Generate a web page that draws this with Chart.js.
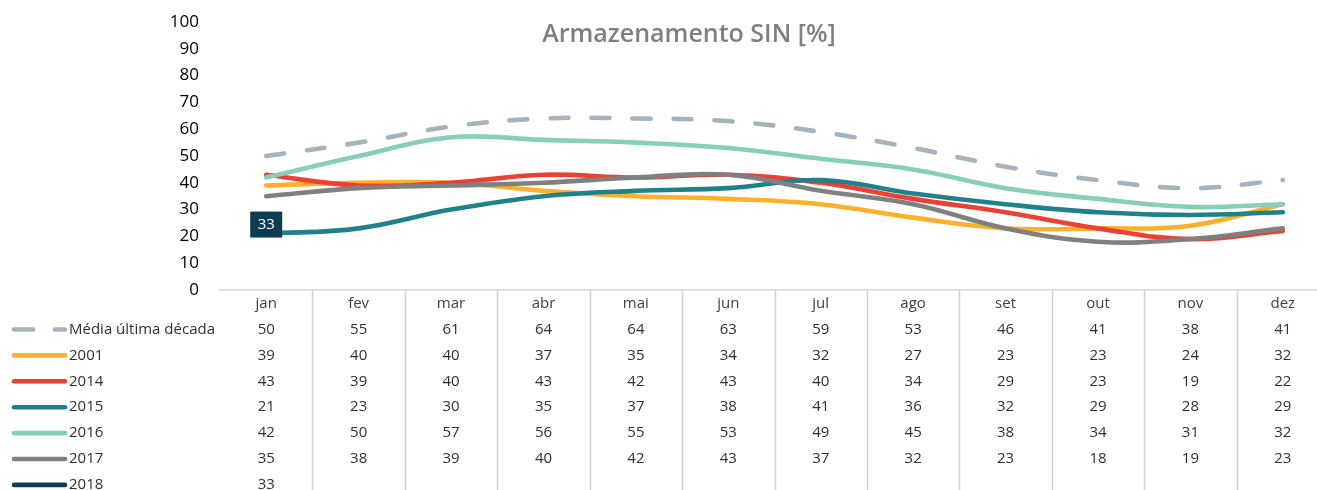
<!DOCTYPE html>
<html><head><meta charset="utf-8">
<script src="https://cdn.jsdelivr.net/npm/chart.js@4"></script>
<style>html,body{margin:0;padding:0;background:#fff;overflow:hidden;}#wrap{position:relative;width:1329px;height:490px;}</style>
</head><body><div id="wrap"><canvas id="c" width="1329" height="490"></canvas></div>
<script>
const titleText = 'Armazenamento SIN [%]';
const months = ['jan','fev','mar','abr','mai','jun','jul','ago','set','out','nov','dez'];
const seriesNames = ['Média última década','2001','2014','2015','2016','2017','2018'];
const media = [50,55,61,64,64,63,59,53,46,41,38,41];
const y2001 = [39,40,40,37,35,34,32,27,23,23,24,32];
const y2014 = [43,39,40,43,42,43,40,34,29,23,19,22];
const y2015 = [21,23,30,35,37,38,41,36,32,29,28,29];
const y2016 = [42,50,57,56,55,53,49,45,38,34,31,32];
const y2017 = [35,38,39,40,42,43,37,32,23,18,19,23];
const y2018 = [33,null,null,null,null,null,null,null,null,null,null,null];
const yTicks = [0,10,20,30,40,50,60,70,80,90,100];

const seriesData = [media,y2001,y2014,y2015,y2016,y2017,y2018];
const colors = ['#a5b3bd','#fdb12b','#ee3f35','#1f8189','#88cfba','#808080','#0e3c51'];
const FONT = '"Open Sans", "Noto Sans", sans-serif';

const datasets = seriesData.map((d,i)=>({
  label: seriesNames[i],
  data: d,
  borderColor: colors[i],
  backgroundColor: colors[i],
  borderWidth: 4.6,
  borderCapStyle: 'round',
  borderJoinStyle: 'round',
  borderDash: i===0 ? [18,23] : [],
  pointRadius: 0,
  tension: 0.4,
  fill: false,
  order: seriesData.length - i,
  spanGaps: false
}));

const tablePlugin = {
  id: 'tablePlugin',
  afterDraw(chart){
    const ctx = chart.ctx, xs = chart.scales.x, area = chart.chartArea;
    ctx.save();
    ctx.font = '600 25px ' + FONT;
    ctx.fillStyle = '#7f7f7f';
    ctx.textAlign = 'center'; ctx.textBaseline = 'middle';
    ctx.fillText(titleText, 689, 35);
    ctx.strokeStyle = '#d0d0d0'; ctx.lineWidth = 1.5;
    for (let i=1;i<=months.length;i++){
      const x = Math.round(xs.getPixelForValue(i-0.5)) + 0.5;
      ctx.beginPath(); ctx.moveTo(x, area.bottom); ctx.lineTo(x, 490); ctx.stroke();
    }
    ctx.font = '15px ' + FONT;
    ctx.fillStyle = '#404040';
    months.forEach((m,i)=>ctx.fillText(m, xs.getPixelForValue(i), 304));
    const rowY = k => 329.5 + 25.9*k;
    ctx.fillStyle = '#303030';
    seriesData.forEach((d,k)=>{
      d.forEach((v,i)=>{ if(v!==null) ctx.fillText(String(v), xs.getPixelForValue(i), rowY(k)); });
    });
    ctx.textAlign = 'left';
    seriesNames.forEach((n,k)=>{
      const y = rowY(k);
      ctx.strokeStyle = colors[k]; ctx.lineWidth = 4.6; ctx.lineCap = 'round';
      ctx.beginPath();
      if (k===0){ ctx.moveTo(14,y); ctx.lineTo(33,y); ctx.moveTo(55,y); ctx.lineTo(65,y); }
      else { ctx.moveTo(14,y); ctx.lineTo(65,y); }
      ctx.stroke();
      ctx.fillStyle = '#303030';
      ctx.fillText(n, 69, y);
    });
    const meta = chart.getDatasetMeta(6);
    const pt = meta.data[0];
    if (pt){
      const w=32,h=26, bx = pt.x - w/2, by = pt.y + 10;
      ctx.fillStyle = colors[6];
      ctx.fillRect(bx, by, w, h);
      ctx.fillStyle = '#ffffff'; ctx.textAlign='center';
      ctx.fillText(String(y2018[0]), pt.x, by + h/2);
    }
    ctx.restore();
  }
};

new Chart(document.getElementById('c'), {
  type: 'line',
  data: { labels: months, datasets },
  options: {
    responsive: false,
    animation: false,
    layout: { padding: { left: 0, right: 0, top: 22, bottom: 200 } },
    plugins: { legend: { display: false }, tooltip: { enabled: false }, title: { display: false } },
    scales: {
      x: {
        offset: true,
        grid: { display: false, drawTicks: false },
        border: { display: true, color: '#d9d9d9', width: 1.5 },
        ticks: { display: false },
        afterFit(s){ s.height = 0; s.paddingLeft = 0; s.paddingRight = 0; }
      },
      y: {
        min: 0, max: 100,
        afterBuildTicks(s){ s.ticks = yTicks.map(v=>({value:v})); },
        grid: { display: false, drawTicks: false },
        border: { display: false },
        ticks: { color: '#000000', font: { family: FONT, size: 17 }, padding: 21 },
        afterFit(s){ s.width = 220; s.paddingTop = 0; s.paddingBottom = 0; }
      }
    }
  },
  plugins: [tablePlugin]
});
</script></body></html>
